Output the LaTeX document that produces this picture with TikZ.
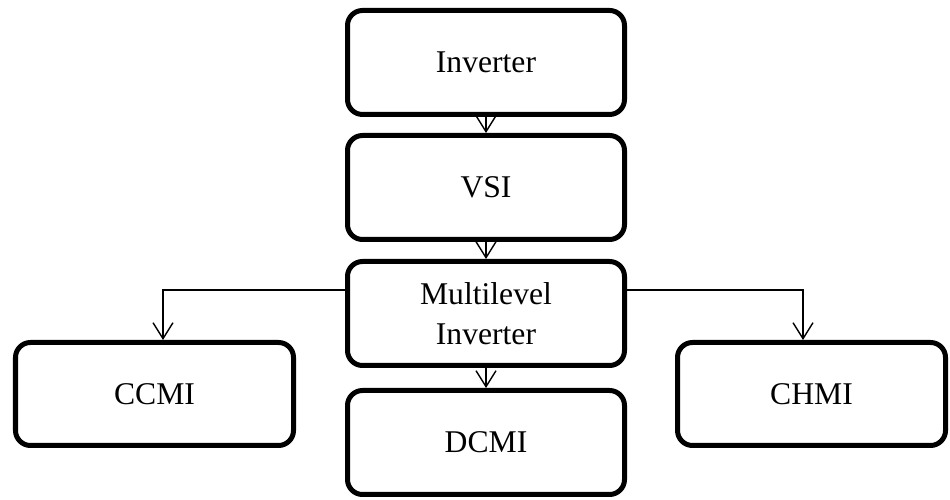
\documentclass[tikz,border=0pt]{standalone}
\usepackage{fontspec}
\setmainfont{Liberation Serif}
\usetikzlibrary{arrows.meta,positioning,calc}

\tikzset{
  blk/.style={rectangle, draw, line width=0.1cm, rounded corners=0.3cm,
    minimum width=5.54cm, minimum height=2.08cm, align=center,
    font=\fontsize{18}{22.5}\selectfont},
  conn/.style={line width=0.8pt, -{Straight Barb[length=0.32cm,width=0.4cm,line width=0.8pt]}},
}

\begin{document}
\begin{tikzpicture}
\useasboundingbox (0,0) rectangle (19,10);
\node[blk] (inv) at (9.72,8.75) {Inverter};
\node[blk] (vsi) at (9.72,6.25) {VSI};
\node[blk] (mli) at (9.72,3.73) {Multilevel\\Inverter};
\node[blk] (dcmi) at (9.72,1.15) {DCMI};
\node[blk, minimum width=5.56cm, minimum height=2.06cm] (ccmi) at (3.09,2.12) {CCMI};
\node[blk, minimum width=5.36cm, minimum height=2.06cm] (chmi) at (16.23,2.12) {CHMI};

\draw[conn] (inv) -- (vsi);
\draw[conn] (vsi) -- (mli);
\draw[conn] (mli) -- (dcmi);
\draw[conn] ([yshift=0.47cm]mli.west) -| ([xshift=0.17cm]ccmi.north);
\draw[conn] ([yshift=0.47cm]mli.east) -| ([xshift=-0.17cm]chmi.north);
\end{tikzpicture}
\end{document}
